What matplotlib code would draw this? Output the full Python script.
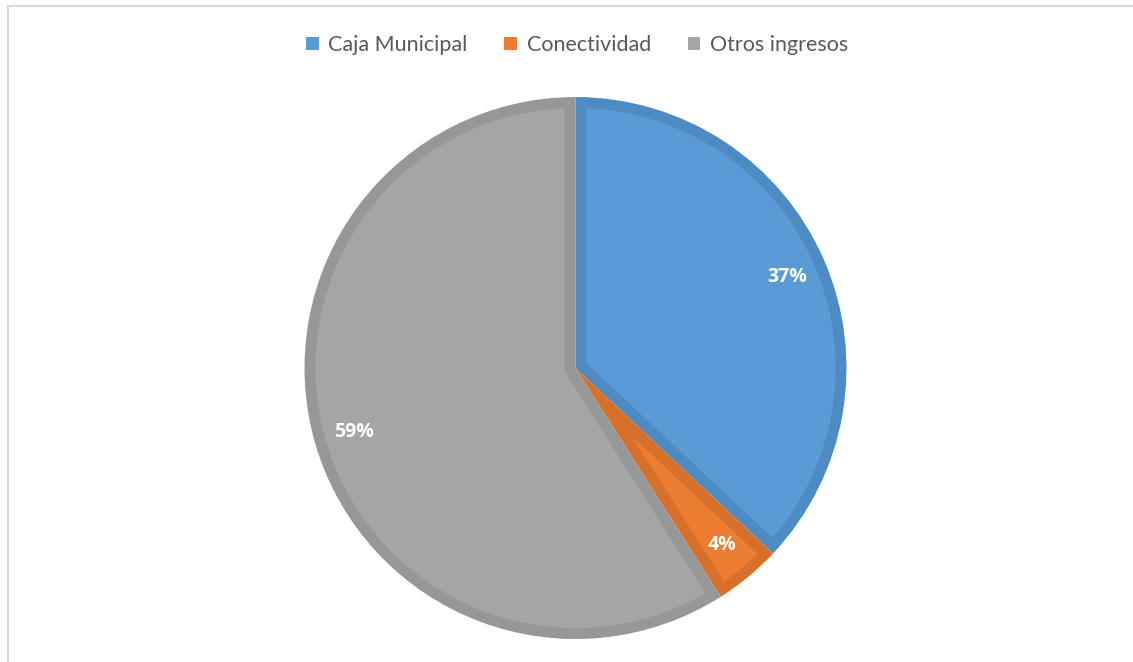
import numpy as np
import matplotlib.pyplot as plt
from matplotlib.lines import Line2D
from matplotlib.patches import Patch, Polygon

categories = ["Caja Municipal", "Conectividad", "Otros ingresos"]
shares = [37, 4, 59]
fill_colors = ["#5B9BD5", "#ED7D31", "#A5A5A5"]
edge_colors = ["#4F8BC3", "#D7702B", "#979797"]

W, H = 1133, 662
fig = plt.figure(figsize=(W / 100, H / 100), dpi=100)

# pie centre and radius in pixels
cx, cy, r = 575.5, 368, 271
half = 300
ax = fig.add_axes([(cx - half) / W, (H - cy - half) / H, 2 * half / W, 2 * half / H])

wedges, texts, autotexts = ax.pie(
    shares, colors=edge_colors, startangle=90, counterclock=False,
    autopct='%1.0f%%', pctdistance=0.85, radius=1,
    wedgeprops=dict(linewidth=0),
    textprops=dict(color='white', fontsize=14, fontweight='bold',
                   family=['Open Sans', 'DejaVu Sans']))


def inset_polygon(t1, t2, R, d):
    # region of the wedge [t1, t2] lying at least d from its border
    t1, t2 = np.radians(t1), np.radians(t2)
    a = t2 - t1
    rin = R - d
    s = np.sqrt(rin ** 2 - d ** 2)
    u1, n1 = np.array([np.cos(t1), np.sin(t1)]), np.array([-np.sin(t1), np.cos(t1)])
    u2, n2 = np.array([np.cos(t2), np.sin(t2)]), np.array([-np.sin(t2), np.cos(t2)])
    off = np.arcsin(d / rin)
    arc = np.linspace(t1 + off, t2 - off, 200)
    outer = np.column_stack([rin * np.cos(arc), rin * np.sin(arc)])
    if a < np.pi:
        bis = (t1 + t2) / 2
        apex = d / np.sin(a / 2) * np.array([np.cos(bis), np.sin(bis)])
        pts = np.vstack([apex, s * u1 + d * n1, outer, s * u2 - d * n2])
    else:
        inner = np.linspace(t2 - np.pi / 2, t1 + np.pi / 2, 100)
        core = np.column_stack([d * np.cos(inner), d * np.sin(inner)])
        pts = np.vstack([d * n1, s * u1 + d * n1, outer, s * u2 - d * n2, -d * n2, core])
    return pts


band = 11 / r
for w, fc in zip(wedges, fill_colors):
    poly = Polygon(inset_polygon(w.theta1, w.theta2, w.r, band), closed=True,
                   facecolor=fc, edgecolor='none', zorder=w.get_zorder() + 0.5)
    ax.add_patch(poly)
for t in autotexts:
    t.set_zorder(5)

lim = half / r
ax.set_xlim(-lim, lim)
ax.set_ylim(-lim, lim)
ax.set_aspect('auto')
ax.axis('off')

handles = [Patch(facecolor=c, edgecolor='none') for c in fill_colors]
fig.legend(handles, categories, loc='center', bbox_to_anchor=(577 / W, 1 - 45 / H),
           ncol=3, frameon=False, handlelength=0.6, handleheight=0.6,
           handletextpad=0.45, columnspacing=1.7,
           prop=dict(family=['Lato', 'DejaVu Sans'], size=15.5), labelcolor='#595959')

# chart area border (top and left visible)
fig.add_artist(Line2D([8 / W, 1], [1 - 6 / H, 1 - 6 / H], color='#d9d9d9', lw=1.5))
fig.add_artist(Line2D([8 / W, 8 / W], [0, 1 - 6 / H], color='#d9d9d9', lw=1.5))

fig.savefig('out.png', dpi=100)
